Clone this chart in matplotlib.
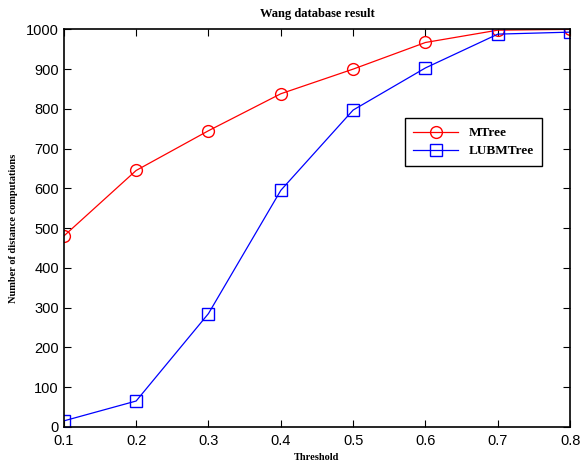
import matplotlib.pyplot as plt

# thresholds and number of distance computations
threshold = [0.1, 0.2, 0.3, 0.4, 0.5, 0.6, 0.7, 0.8]
mtree = [480, 645, 745, 838, 900, 967, 998, 1000]
lubmtree = [15, 65, 285, 595, 797, 903, 988, 993]

fig = plt.figure(figsize=(5.8, 4.66), dpi=100)
ax = fig.add_axes([0.110, 0.084, 0.873, 0.853])

ax.plot(threshold, mtree, color='red', marker='o', markersize=8.5,
        markerfacecolor='none', linewidth=0.9, label='MTree')
ax.plot(threshold, lubmtree, color='blue', marker='s', markersize=8.5,
        markerfacecolor='none', linewidth=0.9, label='LUBMTree')

ax.set_xlim(0.1, 0.8)
ax.set_ylim(0, 1000)
ax.set_xticks(threshold)
ax.set_yticks(range(0, 1001, 100))
ax.tick_params(direction='in', top=True, right=True, length=5, labelsize=10.5)
ax.tick_params(axis='x', pad=5.5)
for lbl in ax.get_xticklabels() + ax.get_yticklabels():
    lbl.set_family('Liberation Sans')
for s in ax.spines.values():
    s.set_linewidth(1.2)

serif = dict(family='Liberation Serif', weight='bold')
ax.set_title('Wang database result', fontsize=9, pad=9, **serif)
ax.set_xlabel('Threshold', fontsize=7.5, labelpad=3, **serif)
ax.set_ylabel('Number of distance computations', fontsize=7.5, labelpad=6, **serif)

leg = ax.legend(loc='upper left', bbox_to_anchor=(0.673, 0.776), borderaxespad=0,
                fancybox=False, edgecolor='black', framealpha=1,
                prop=dict(family='Liberation Serif', weight='bold', size=9.5),
                handlelength=3.4, borderpad=0.65, labelspacing=0.45)
leg.get_frame().set_linewidth(1.0)

fig.savefig('out.png', dpi=100)
